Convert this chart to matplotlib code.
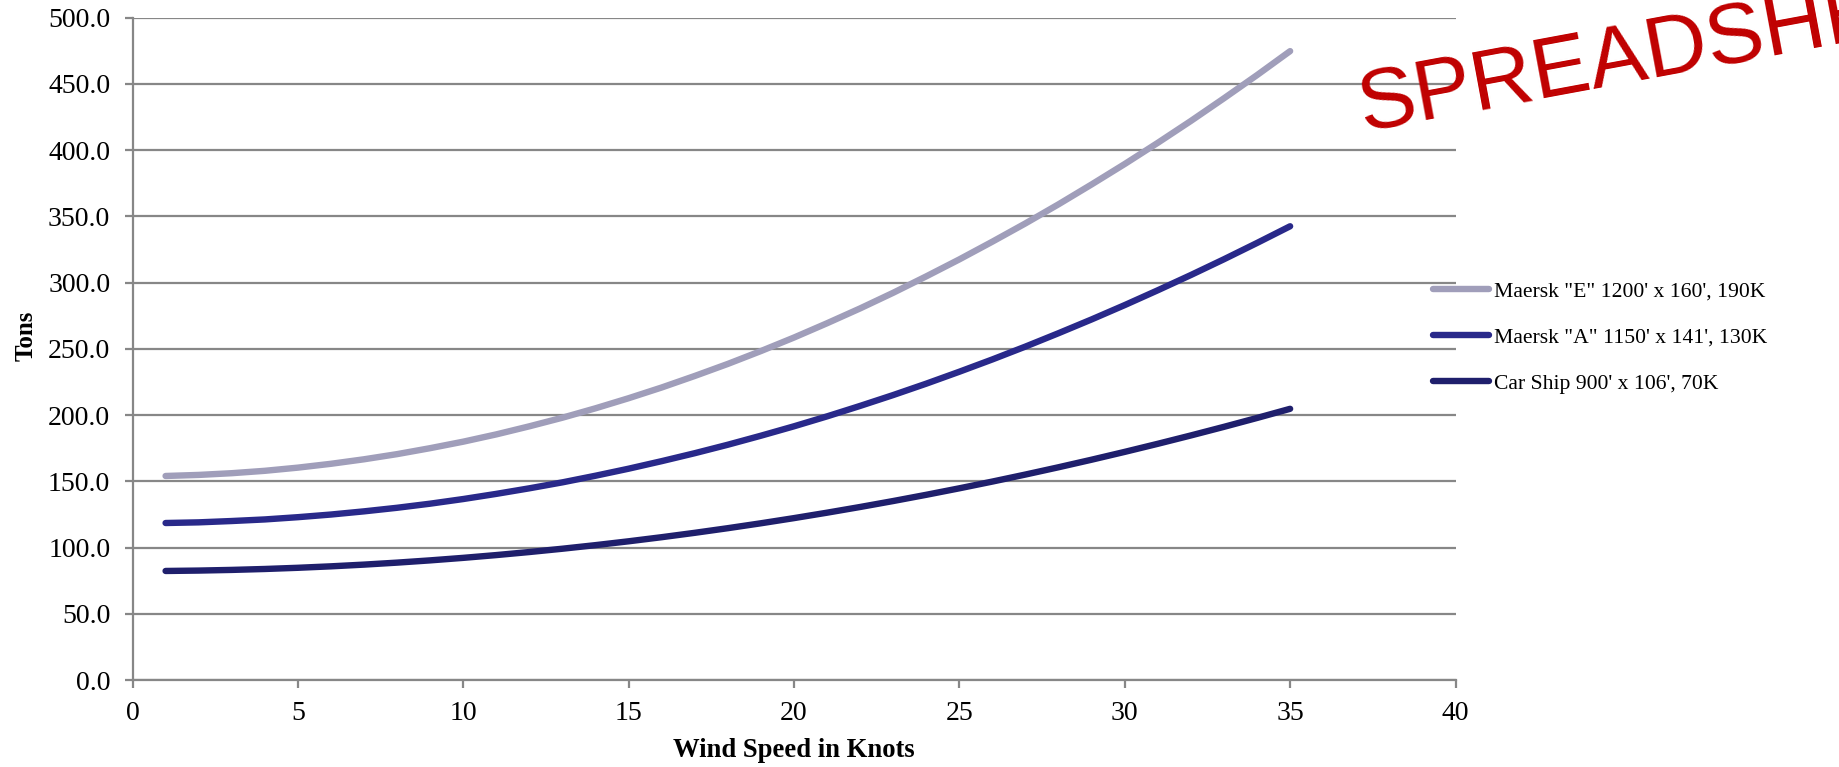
import matplotlib
matplotlib.use("Agg")
import matplotlib.pyplot as plt
from matplotlib.ticker import FormatStrFormatter, MultipleLocator

wind_knots = list(range(1, 36))

maersk_e = [154.0, 154.8, 156.1, 157.9, 160.3, 163.2, 166.6, 170.5, 175.0, 179.9,
            185.4, 191.5, 198.0, 205.1, 212.7, 220.8, 229.5, 238.6, 248.3, 258.5,
            269.3, 280.5, 292.3, 304.7, 317.5, 330.9, 344.7, 359.1, 374.1, 389.5,
            405.5, 422.0, 439.1, 456.6, 474.7]

maersk_a = [118.5, 119.0, 120.0, 121.2, 122.9, 124.9, 127.3, 130.0, 133.1, 136.6,
            140.5, 144.7, 149.2, 154.2, 159.5, 165.2, 171.2, 177.6, 184.4, 191.5,
            199.0, 206.9, 215.1, 223.7, 232.7, 242.0, 251.7, 261.8, 272.2, 283.0,
            294.2, 305.7, 317.6, 329.9, 342.5]

car_ship = [82.3, 82.6, 83.1, 83.8, 84.7, 85.8, 87.1, 88.6, 90.3, 92.2,
            94.3, 96.6, 99.1, 101.8, 104.7, 107.8, 111.1, 114.6, 118.3, 122.2,
            126.3, 130.6, 135.1, 139.8, 144.7, 149.8, 155.1, 160.6, 166.3, 172.2,
            178.3, 184.6, 191.1, 197.8, 204.7]

series_labels = ['Maersk "E" 1200\' x 160\', 190K',
                 'Maersk "A" 1150\' x 141\', 130K',
                 "Car Ship 900' x 106', 70K"]
series_colors = ["#A09EBA", "#29298A", "#1F1F6C"]

x_label = "Wind Speed in Knots"
y_label = "Tons"
watermark = "SPREADSHEETS"

plt.rcParams["font.family"] = ["Liberation Serif", "DejaVu Serif"]

W, H = 1839, 767
fig = plt.figure(figsize=(W / 100, H / 100), dpi=100)
ax = fig.add_axes([132.5 / W, 1 - 680 / H, (1455.5 - 132.5) / W, (680 - 17.6) / H])

for vals, lab, col in zip([maersk_e, maersk_a, car_ship], series_labels, series_colors):
    ax.plot(wind_knots, vals, color=col, lw=4.6, solid_capstyle="round", label=lab, zorder=3)

ax.set_xlim(0, 40)
ax.set_ylim(0, 500)
ax.xaxis.set_major_locator(MultipleLocator(5))
ax.yaxis.set_major_locator(MultipleLocator(50))
ax.yaxis.set_major_formatter(FormatStrFormatter("%.1f"))
ax.grid(axis="y", color="#878787", lw=1.6, zorder=1)
ax.set_axisbelow(True)
for s in ["top", "right"]:
    ax.spines[s].set_visible(False)
for s in ["left", "bottom"]:
    ax.spines[s].set_color("#878787")
    ax.spines[s].set_linewidth(1.6)
ax.tick_params(axis="both", direction="out", length=6, width=1.6, color="#878787",
               labelsize=20, labelcolor="black")
ax.tick_params(axis="y", pad=10)
ax.tick_params(axis="x", pad=9)

ax.set_ylabel(y_label, fontsize=18, fontweight="bold", va="center")
ax.yaxis.set_label_coords(-0.0805, 0.52)
ax.set_xlabel(x_label, fontsize=19.2, fontweight="bold", va="center")
ax.xaxis.set_label_coords(0.5, -0.1066)

leg = fig.legend(loc="center left", bbox_to_anchor=(1433 / W, 1 - 337.5 / H),
                 frameon=False, fontsize=15.6, handlelength=2.6, handletextpad=0.2,
                 labelspacing=1.2, borderpad=0, borderaxespad=0)

fig.text(1363 / W, 1 - 131 / H, watermark, color="#C00000", fontsize=62,
         family="Liberation Sans", rotation=10.5, rotation_mode="anchor",
         ha="left", va="baseline")

fig.savefig("out.png", dpi=100)
